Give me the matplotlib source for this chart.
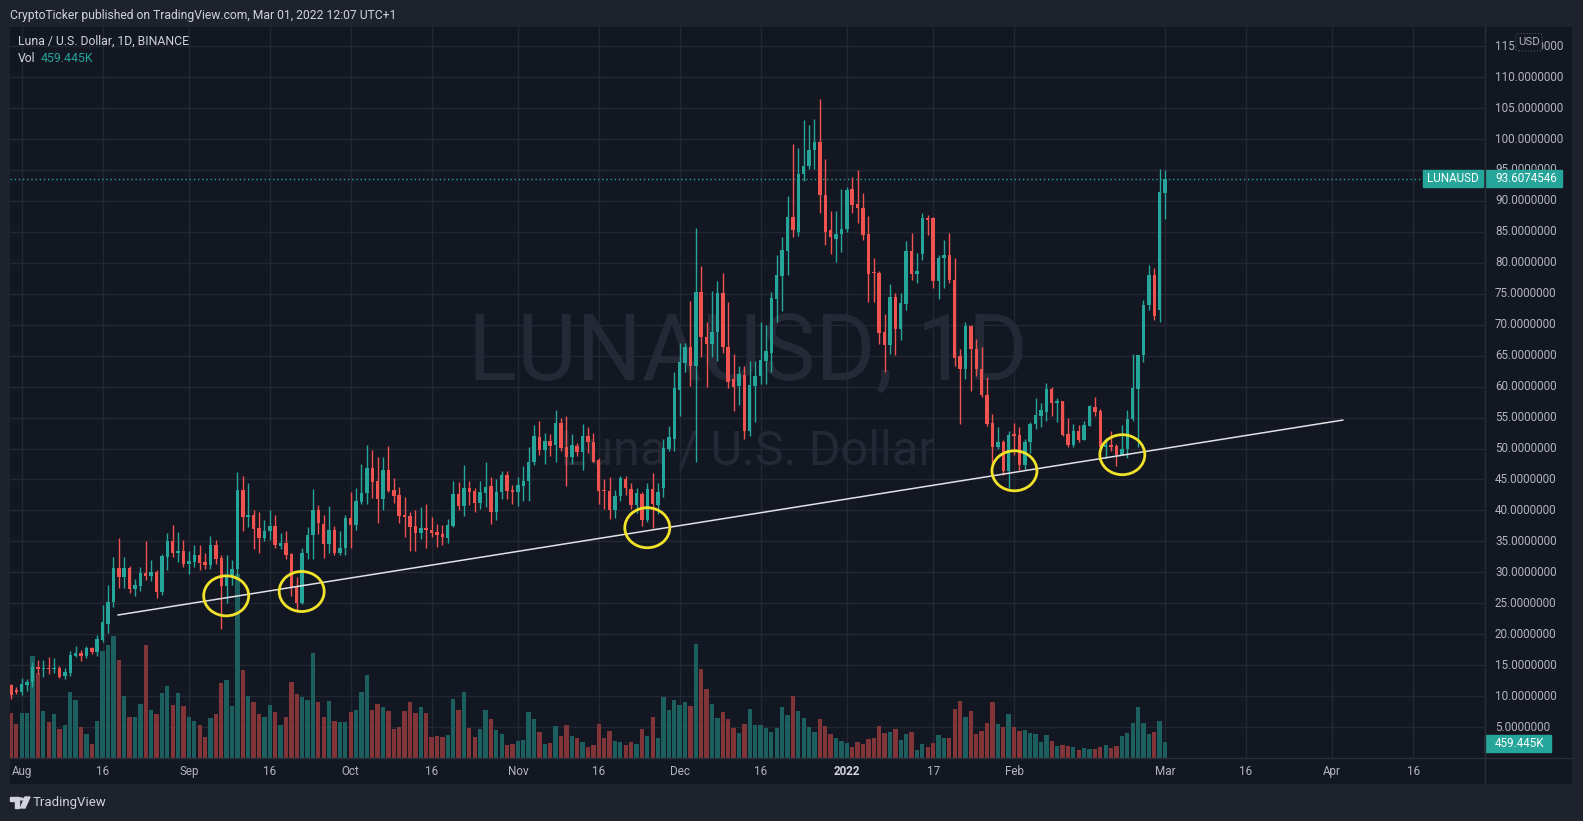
import matplotlib
matplotlib.use("Agg")
import matplotlib.pyplot as plt
import matplotlib.dates as mdates
from matplotlib.patches import Ellipse, Rectangle, FancyBboxPatch, Polygon, Circle
from matplotlib.lines import Line2D
from matplotlib.transforms import blended_transform_factory
import pandas as pd

# daily LUNA/USD candles, 30 Jul 2021 -> 1 Mar 2022
dates = pd.date_range("2021-07-30", "2022-03-01", freq="D")

opens = [
    11.8, 11.0,
    10.6, 11.8, 12.2, 14.7, 14.4, 14.6, 14.4, 14.5, 13.25, 13.8, 16.5, 17.0, 16.5, 17.8, 17.2, 19.1,
    21.6, 25.2, 30.75, 29.3, 30.75, 27.3, 27.8, 29.9, 29.4, 30.05, 26.8, 32.5, 35.06, 33.2, 33.4,
    31.4, 31.7, 32.8, 31.7, 31.2, 34.4, 32.25, 27.85, 29.4, 30.5, 43.3, 39.0, 39.3, 37.1, 35.6,
    36.6, 37.5, 34.25, 34.8, 32.95, 27.7, 25.0, 33.1, 36.0, 40.1, 37.8, 34.6, 36.8, 33.1, 34.0,
    38.7, 37.6, 41.4, 42.8, 46.8, 44.75, 41.85, 46.5, 43.3, 42.5, 39.3, 39.1, 37.5, 36.4, 37.2,
    36.9, 36.5, 36.2, 35.6, 37.5, 42.65, 40.7, 43.7, 43.1, 41.25, 42.8, 43.95, 39.8, 42.9, 45.7, 43.3,
    42.9, 44.0, 44.7, 47.8, 51.8, 49.8, 51.2, 50.5, 54.2, 50.3, 48.7, 50.4, 49.5, 52.0, 51.05,
    48.2, 43.3, 43.2, 40.05, 42.3, 45.15, 43.45, 40.9, 42.7, 38.45, 43.45, 40.85, 43.7, 50.0, 51.5,
    59.4, 63.8, 66.4, 63.4, 75.3, 68.0, 66.9, 68.8, 75.1, 66.4, 61.3, 60.1, 61.8, 52.9, 60.1,
    61.7, 64.1, 65.5, 74.15, 77.8, 81.9, 87.4, 84.9, 94.3, 95.65, 98.3, 99.6, 90.9, 85.3, 83.8, 84.7,
    85.4, 91.85, 89.5, 88.8, 84.7, 78.4, 78.4, 68.8, 66.8, 74.5, 69.35, 73.4, 81.9, 78.2, 81.5,
    87.25, 87.25, 77.0, 80.7, 81.3, 77.3, 65.0, 62.8, 69.8, 66.0, 62.9, 58.6, 54.1, 50.3, 51.0, 46.35,
    52.2, 52.2, 47.3, 51.0, 53.9, 55.3, 55.95, 59.6, 57.35, 57.6, 52.35, 50.6, 52.75, 51.45,
    53.6, 56.7, 56.1, 50.2, 50.6, 50.4, 49.0, 50.0, 54.7, 59.6, 65.1, 73.2, 78.1, 72.35,
    91.3,
]
highs = [
    12.0, 11.4,
    12.9, 12.7, 15.5, 15.8, 15.8, 16.3, 16.1, 14.9, 14.5, 17.3, 18.1, 17.4, 18.1, 18.0, 19.9, 24.7,
    27.9, 32.5, 35.6, 32.5, 31.0, 28.9, 30.9, 35.0, 32.0, 30.4, 32.95, 36.3, 37.6, 36.5, 35.2,
    33.4, 34.4, 34.4, 33.1, 35.8, 35.2, 32.8, 32.8, 32.0, 46.2, 45.6, 44.5, 40.1, 39.8, 38.45,
    40.0, 39.3, 36.4, 36.6, 33.1, 29.3, 33.9, 37.3, 43.4, 40.9, 39.3, 40.7, 37.5, 36.7, 39.3,
    43.0, 43.6, 47.5, 50.6, 49.8, 48.6, 48.6, 50.4, 45.3, 43.8, 42.1, 39.8, 40.0, 40.5, 41.0,
    39.0, 37.8, 37.6, 38.6, 44.8, 44.6, 47.3, 44.8, 43.7, 44.8, 47.9, 45.35, 45.0, 46.4, 46.3, 44.1,
    45.35, 47.1, 50.2, 53.8, 54.45, 52.5, 52.4, 56.3, 54.9, 55.2, 52.4, 50.95, 53.9, 53.4, 52.5,
    48.4, 45.0, 45.4, 43.3, 45.6, 45.6, 44.5, 43.6, 43.0, 44.4, 46.0, 44.4, 51.5, 53.6, 62.3,
    67.1, 67.1, 73.9, 85.6, 79.5, 70.4, 75.5, 77.1, 78.4, 73.6, 65.2, 63.4, 63.4, 64.1, 64.1,
    70.4, 69.9, 75.35, 81.3, 84.1, 90.8, 99.2, 98.5, 103.0, 102.3, 103.2, 106.4, 96.7, 88.4, 88.4, 91.9,
    92.3, 93.9, 95.0, 91.3, 87.5, 80.85, 78.7, 71.7, 76.5, 75.1, 75.1, 83.5, 84.8, 81.6, 88.0,
    87.7, 87.4, 81.3, 83.65, 84.8, 80.85, 66.0, 70.4, 70.0, 67.7, 66.4, 61.5, 55.55, 53.5, 51.45, 52.75,
    54.15, 53.5, 51.6, 54.3, 58.2, 57.35, 60.55, 59.9, 58.1, 57.6, 54.9, 54.0, 53.8, 54.45,
    57.0, 58.3, 56.4, 51.7, 52.75, 50.8, 53.8, 56.2, 65.3, 65.1, 74.0, 79.7, 79.1, 95.2,
    95.0,
]
lows = [
    9.6, 10.3,
    10.1, 10.9, 11.5, 13.5, 13.1, 13.5, 13.7, 12.9, 12.8, 13.3, 16.3, 15.7, 16.2, 16.8, 16.4, 18.7,
    20.2, 24.4, 27.4, 27.4, 26.6, 26.2, 26.9, 28.8, 28.6, 25.9, 26.3, 30.3, 32.5, 31.6, 30.8,
    29.7, 30.8, 30.3, 30.6, 30.6, 31.3, 20.9, 25.0, 27.9, 29.3, 36.7, 37.3, 33.7, 33.2, 35.0,
    35.2, 34.0, 33.7, 32.15, 26.2, 23.6, 24.9, 32.2, 32.1, 36.2, 32.3, 33.2, 32.8, 32.8, 32.8,
    34.0, 36.8, 41.0, 41.1, 42.0, 38.0, 40.0, 43.0, 41.25, 37.9, 35.65, 33.5, 33.5, 35.4, 33.9,
    35.75, 34.1, 34.4, 34.7, 37.4, 40.0, 39.1, 40.9, 39.8, 40.3, 40.6, 37.75, 38.45, 41.8, 41.8, 41.0,
    40.7, 41.6, 41.6, 47.3, 49.0, 47.5, 48.85, 47.9, 49.6, 44.0, 47.5, 48.85, 46.55, 49.2, 47.8,
    41.1, 40.3, 38.6, 38.75, 41.6, 42.45, 40.2, 39.6, 37.5, 38.2, 37.2, 39.5, 42.15, 49.6, 49.6,
    55.2, 62.4, 60.1, 47.8, 64.8, 60.0, 64.8, 64.1, 65.5, 59.7, 56.1, 57.1, 51.5, 52.0, 54.3,
    60.4, 60.4, 62.4, 70.4, 72.2, 78.1, 84.2, 84.4, 93.2, 95.2, 95.2, 88.0, 82.8, 81.4, 80.2, 81.8,
    85.0, 88.0, 86.5, 83.7, 73.6, 73.6, 66.9, 62.4, 65.3, 65.1, 67.6, 72.35, 77.3, 76.8, 80.5,
    84.5, 76.0, 74.1, 75.9, 76.8, 63.4, 54.0, 61.3, 59.25, 61.7, 58.4, 53.6, 47.6, 50.0, 45.7, 43.6,
    49.0, 46.5, 46.5, 49.2, 53.2, 53.4, 54.5, 55.3, 54.3, 52.1, 50.3, 50.2, 51.1, 51.3,
    53.6, 55.3, 50.0, 48.5, 49.55, 47.1, 48.9, 48.5, 54.5, 50.2, 63.9, 72.35, 70.8, 70.4,
    87.0,
]
closes = [
    10.2, 10.7,
    11.9, 12.2, 14.7, 14.4, 14.5, 14.4, 14.6, 13.1, 13.9, 16.6, 17.0, 16.5, 17.8, 17.1, 19.2, 21.9,
    25.2, 30.75, 29.3, 30.75, 27.3, 28.0, 29.9, 29.45, 30.05, 26.8, 32.6, 35.06, 33.2, 33.4, 31.4,
    31.8, 32.8, 31.45, 31.2, 34.4, 32.15, 27.85, 29.4, 30.5, 43.3, 39.0, 39.3, 37.0, 35.6, 36.7,
    37.5, 34.4, 34.8, 32.8, 27.4, 25.0, 33.1, 36.1, 40.1, 37.9, 34.6, 36.8, 33.1, 34.0, 38.7,
    37.6, 41.5, 42.8, 46.8, 44.65, 41.85, 46.5, 43.2, 42.3, 39.15, 38.9, 37.4, 36.4, 37.1, 36.9,
    36.4, 36.1, 35.75, 37.6, 42.65, 40.7, 43.6, 43.0, 41.25, 42.9, 43.8, 39.8, 43.0, 45.7, 43.2, 42.9,
    44.1, 44.8, 47.9, 52.0, 49.8, 51.2, 50.4, 54.05, 50.1, 48.7, 50.5, 49.5, 52.0, 51.0, 47.9,
    43.2, 43.1, 40.05, 42.3, 45.3, 43.6, 40.9, 42.8, 38.45, 43.45, 41.0, 43.0, 50.1, 51.8, 59.8,
    63.9, 66.4, 63.4, 75.3, 68.0, 66.9, 68.8, 75.1, 66.4, 60.8, 59.9, 62.0, 52.8, 60.3, 61.7,
    64.3, 65.7, 74.3, 78.1, 82.0, 87.4, 85.3, 94.3, 95.65, 98.3, 99.6, 90.9, 85.0, 84.1, 84.7, 85.5,
    91.8, 89.4, 88.8, 84.5, 78.2, 78.3, 68.6, 66.8, 74.5, 69.35, 73.5, 81.9, 78.2, 78.7, 87.2,
    86.9, 77.0, 80.85, 81.3, 77.15, 64.7, 62.8, 69.8, 66.0, 62.8, 58.6, 54.0, 50.3, 51.0, 46.35, 52.2,
    52.1, 47.3, 51.1, 54.0, 55.4, 56.2, 59.6, 57.35, 57.6, 52.2, 50.6, 52.75, 51.45, 53.8,
    56.8, 55.9, 50.2, 50.6, 50.3, 49.0, 50.0, 54.8, 59.7, 65.1, 73.2, 78.1, 71.4, 91.5,
    93.6074546,
]
# volume in thousands of LUNA
volume_k = [
    1290, 980,
    1290, 1290, 2930, 2440, 1350, 1030, 1260, 830, 950, 1890, 1660, 890, 690, 400, 1060, 3070,
    3240, 3500, 2810, 1780, 1180, 1180, 1550, 3240, 1380, 1260, 1870, 2070, 1520, 1870, 1490,
    1180, 1060, 950, 600, 1150, 1260, 2150, 2240, 1490, 5280, 2530, 1780, 1610, 1260, 1180,
    1520, 1320, 950, 1180, 2180, 1840, 1750, 1660, 3010, 1610, 1180, 1640, 1060, 1030, 1030,
    1320, 1380, 1890, 2380, 1380, 1550, 1460, 1350, 830, 890, 1350, 1610, 1290, 1460, 1290,
    600, 630, 600, 660, 1690, 1380, 1890, 860, 600, 830, 1380, 1120, 800, 690, 370, 400,
    490, 520, 1320, 1120, 750, 400, 430, 920, 630, 950, 630, 570, 460, 320, 370,
    980, 570, 770, 490, 460, 370, 460, 400, 830, 630, 1180, 570, 1750, 1380, 1660,
    1520, 1610, 1490, 3270, 2550, 1980, 1550, 1150, 1320, 1120, 860, 720, 980, 1410, 950,
    950, 860, 750, 860, 1460, 1230, 1780, 1350, 1150, 890, 750, 1120, 920, 690, 570, 490,
    430, 320, 460, 400, 550, 570, 920, 720, 750, 830, 520, 690, 750, 230, 400,
    320, 430, 660, 570, 570, 1410, 1640, 1180, 1350, 690, 770, 1000, 1610, 980, 890, 1260,
    890, 770, 800, 720, 690, 460, 660, 490, 340, 370, 340, 320, 230, 290,
    260, 260, 320, 370, 290, 340, 630, 720, 1000, 1460, 1000, 690, 750, 1060,
    459.445,
]

last_price = 93.6074546
last_volume = "459.445K"

# hand-drawn support line and circled touches
trend_dates = ["2021-08-18 20:00", "2022-04-03 00:00"]
trend_prices = [23.1, 54.6]
touch_dates = ["2021-09-07 22:00", "2021-09-21 22:00", "2021-11-25 00:00", "2022-02-01 02:00", "2022-02-21 02:00"]
touch_prices = [26.2, 26.9, 37.2, 46.4, 49.0]

price_ticks = list(range(5, 120, 5))
time_ticks = ["2021-08-01", "2021-08-16", "2021-09-01", "2021-09-16", "2021-10-01", "2021-10-16",
              "2021-11-01", "2021-11-16", "2021-12-01", "2021-12-16", "2022-01-01", "2022-01-17",
              "2022-02-01", "2022-03-01", "2022-03-16", "2022-04-01", "2022-04-16"]
time_labels = ["Aug", "16", "Sep", "16", "Oct", "16", "Nov", "16", "Dec", "16", "2022", "17",
               "Feb", "Mar", "16", "Apr", "16"]

# colours
OUT_BG = "#1e222d"
CHART_BG = "#131722"
GRID = "#232733"
BORDER = "#2a2e39"
TXT = "#b2b5be"
UP = "#26a69a"
DOWN = "#ef5350"
UP_VOL = "#1d5e5e"
DOWN_VOL = "#813539"
WATER = "#252935"

W, H = 1583, 821
FONT = "Roboto"


def fx(x):
    return x / W


def fy(y):
    return 1 - y / H


fig = plt.figure(figsize=(W / 100, H / 100), dpi=100, facecolor=OUT_BG)

# chart pane background incl. price scale and time scale
bg = fig.add_axes([fx(10), fy(784), (1572 - 10) / W, (784 - 27) / H])
bg.set_facecolor(CHART_BG)
bg.set_xticks([])
bg.set_yticks([])
for s in bg.spines.values():
    s.set_visible(False)

rect = [fx(10), fy(758), (1485 - 10) / W, (758 - 27) / H]
ax_vol = fig.add_axes(rect)
ax = fig.add_axes(rect, sharex=ax_vol)
ax.set_facecolor("none")
ax_vol.set_facecolor(CHART_BG)

x = mdates.date2num(dates)
x0 = mdates.date2num(pd.Timestamp("2021-08-01")) - 2.17
ax.set_xlim(x0, x0 + 1475 / 5.393)
ax.set_ylim(0, 118.1)
ax_vol.set_ylim(0, 731 * 28.7)

for a in (ax, ax_vol):
    a.set_xticks([])
    a.set_yticks([])
    for s in a.spines.values():
        s.set_visible(False)

# grid (behind volume)
for t in time_ticks:
    ax_vol.axvline(mdates.date2num(pd.Timestamp(t)), color=GRID, lw=1, zorder=0)
for p in price_ticks:
    ax_vol.plot([0, 1], [p, p], transform=ax.get_yaxis_transform(), color=GRID, lw=1, zorder=0)

# watermark
ax_vol.text(0.5, (758 - 380.7) / 731, "LUNAUSD, 1D", transform=ax_vol.transAxes, ha="center", va="baseline",
            fontsize=66, color=WATER, family=FONT, zorder=0.5)
ax_vol.text(0.5, (758 - 465) / 731, "Luna / U.S. Dollar", transform=ax_vol.transAxes, ha="center", va="baseline",
            fontsize=35, color=WATER, family=FONT, zorder=0.5)

# volume
up = [c >= o for o, c in zip(opens, closes)]
ax_vol.bar(x, volume_k, width=0.8, color=[UP_VOL if u else DOWN_VOL for u in up], zorder=1)

# candles
cols = [UP if u else DOWN for u in up]
ax.vlines(x, lows, highs, colors=cols, lw=1, zorder=3)
bottoms = [min(o, c) for o, c in zip(opens, closes)]
heights = [max(abs(c - o), 0.18) for o, c in zip(opens, closes)]
ax.bar(x, heights, bottom=bottoms, width=0.64, color=cols, zorder=4)

# last price line
ax.axhline(last_price, color=UP, lw=1, ls=(0, (1, 2)), zorder=2)

# support line and circles
tx = [mdates.date2num(pd.Timestamp(d)) for d in trend_dates]
ax.plot(tx, trend_prices, color="#e2e2e6", lw=1.1, zorder=5, solid_capstyle="round")
for d, p in zip(touch_dates, touch_prices):
    ax.add_patch(Ellipse((mdates.date2num(pd.Timestamp(d)), p), 45 / 5.393, 40 / 6.188,
                         fill=False, ec="#f2e229", lw=2, zorder=6))

# price scale labels (the top one sits under the USD badge, as on the original)
ytr = blended_transform_factory(ax.transAxes, ax.transData)
lx = (1495 - 10) / 1475
for p in price_ticks:
    ax.text(lx, p, f"{p:.7f}", transform=ytr, ha="left", va="center", fontsize=8.4,
            color=TXT, family=FONT, clip_on=False, zorder=3)

# time scale labels
xtr = blended_transform_factory(ax.transData, ax.transAxes)
for t, lab in zip(time_ticks, time_labels):
    bold = lab == "2022"
    ax.text(mdates.date2num(pd.Timestamp(t)), -13.7 / 731, lab, transform=xtr, ha="center", va="center",
            fontsize=8.4, color="#d1d4dc" if bold else TXT, family=FONT,
            fontweight="bold" if bold else "normal", clip_on=False)

# last price tags
ax.add_patch(Rectangle(((1423 - 10) / 1475, last_price - 8.4 / 6.188), 60 / 1475, 16.8 / 6.188,
                       transform=ytr, color=UP, clip_on=False, zorder=7))
ax.text((1453 - 10) / 1475, last_price, "LUNAUSD", transform=ytr, ha="center", va="center",
        fontsize=8.4, color="white", family=FONT, clip_on=False, zorder=8)
ax.add_patch(Rectangle(((1485 - 10) / 1475, last_price - 8.4 / 6.188), 77 / 1475, 16.8 / 6.188,
                       transform=ytr, color=UP, clip_on=False, zorder=7))
ax.text(lx, last_price, f"{last_price:.7f}", transform=ytr, ha="left", va="center",
        fontsize=8.4, color="white", family=FONT, clip_on=False, zorder=8)

# volume tag
fig.patches.append(Rectangle((fx(1485), fy(752)), 66 / W, 17 / H, transform=fig.transFigure, color=UP))
fig.text(fx(1495), fy(743.5), last_volume, ha="left", va="center", fontsize=8.4, color="white", family=FONT)

# USD badge
fig.patches.append(FancyBboxPatch((fx(1516), fy(51)), 26 / W, 17.5 / H, boxstyle="round,pad=0,rounding_size=0.002",
                                  transform=fig.transFigure, fc=CHART_BG, ec="#50535e", lw=0.8, ls=":"))
fig.text(fx(1529), fy(42), "USD", ha="center", va="center", fontsize=8.2, color=TXT, family=FONT)

# pane borders
fig.add_artist(Line2D([fx(10), fx(1572)], [fy(758), fy(758)], color=BORDER, lw=1))
fig.add_artist(Line2D([fx(1485), fx(1485)], [fy(27), fy(784)], color=BORDER, lw=1))

# header, legend, footer
fig.text(fx(10), fy(15), "CryptoTicker published on TradingView.com, Mar 01, 2022 12:07 UTC+1",
         ha="left", va="center", fontsize=8.7, color="#d1d4dc", family=FONT)
fig.text(fx(18), fy(41.5), "Luna / U.S. Dollar, 1D, BINANCE", ha="left", va="center",
         fontsize=8.8, color="#d1d4dc", family=FONT)
fig.text(fx(18), fy(59), "Vol", ha="left", va="center", fontsize=8.8, color="#d1d4dc", family=FONT)
fig.text(fx(41), fy(59), last_volume, ha="left", va="center", fontsize=8.8, color=UP, family=FONT)

logo = "#d1d4dc"
fig.patches.append(Polygon([(fx(10), fy(797)), (fx(19), fy(797)), (fx(19), fy(808)), (fx(15), fy(808)),
                            (fx(15), fy(801)), (fx(10), fy(801))], closed=True, transform=fig.transFigure, color=logo))
fig.patches.append(Circle((fx(21.5), fy(799)), 1.8 / W, transform=fig.transFigure, color=logo))
fig.patches.append(Polygon([(fx(25), fy(797)), (fx(30), fy(797)), (fx(25), fy(808)), (fx(20.5), fy(808))],
                           closed=True, transform=fig.transFigure, color=logo))
fig.text(fx(33), fy(802.5), "TradingView", ha="left", va="center", fontsize=9.5, color=logo, family=FONT)

fig.savefig("out.png", dpi=100, facecolor=OUT_BG)
